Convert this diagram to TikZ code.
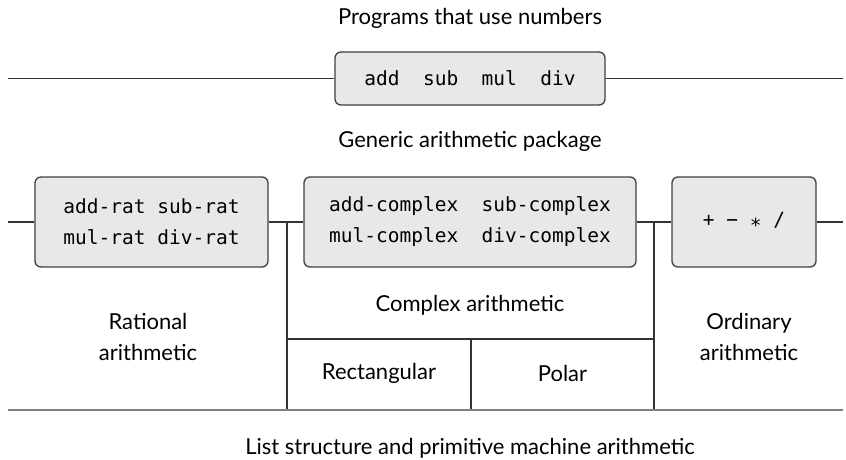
\documentclass[tikz,border=0pt]{standalone}
\usepackage{fontspec}
\setmainfont{Lato}
\setmonofont{DejaVu Sans Mono}
\usetikzlibrary{calc}

\begin{document}
\begin{tikzpicture}[x=1pt,y=-1pt,
  wire/.style={draw=black!80,line width=1.3pt},
  floor/.style={draw=black!50,line width=2.6pt},
  opbox/.style={draw=black!75,line width=1.3pt,fill=black!9,rounded corners=6pt,
    align=center,inner sep=0pt,font=\fontsize{19.5}{31}\selectfont\ttfamily},
  txt/.style={align=center,font=\fontsize{22}{31}\selectfont}]

\useasboundingbox (0,0) rectangle (846,460);

\def\ymid{222}

% top level
\node[txt] (progs) at (470,18) {Programs that use numbers};
\node[opbox,minimum width=270pt,minimum height=53pt] (generic) at (470,78.5) {add~~sub~~mul~~div};
\coordinate (gl) at (8,78.5);
\coordinate (gr) at (843,78.5);
\draw[wire] (gl)--(generic.west);
\draw[wire] (generic.east)--(gr);

\node[txt] (pkg) at (470,141) {Generic arithmetic package};

% second level
\node[opbox,minimum width=233pt,minimum height=90pt] (rat) at (151.5,\ymid) {add-rat sub-rat\\mul-rat div-rat};
\node[opbox,minimum width=332pt,minimum height=90pt] (cplx) at (470,\ymid) {add-complex~~sub-complex\\mul-complex~~div-complex};
\node[opbox,minimum width=144pt,minimum height=90pt] (ord) at (744,\ymid) {+ − \raisebox{-0.3em}{*} /};

\coordinate (rl) at (8,\ymid);
\coordinate (rr) at (843,\ymid);
\coordinate (ca) at (287,\ymid);
\coordinate (cb) at (654,\ymid);
\coordinate (bl) at (8,410);
\coordinate (br) at (843,410);

\draw[wire] (rl)--(rat.west);
\draw[wire] (rat.east)--(cplx.west);
\draw[wire] (cplx.east)--(ord.west);
\draw[wire] (ord.east)--(rr);
\draw[wire] (ca)--(ca|-bl);
\draw[wire] (cb)--(cb|-bl);

% complex split
\coordinate (sa) at (287,339);
\coordinate (sb) at (654,339);
\coordinate (sm) at (471,339);
\draw[wire] (sa)--(sb);
\draw[wire] (sm)--(sm|-bl);

\node[txt] (ratl) at (148,337) {Rational\\arithmetic};
\node[txt] (ordl) at (749,337) {Ordinary\\arithmetic};
\node[txt] (cplxl) at (470,305) {Complex arithmetic};
\node[txt] (rect) at (379,373) {Rectangular};
\node[txt] (polar) at (562.5,373) {Polar};

% bottom
\draw[floor] (bl)--(br);
\node[txt] (prim) at (470,448) {List structure and primitive machine arithmetic};

\end{tikzpicture}
\end{document}
